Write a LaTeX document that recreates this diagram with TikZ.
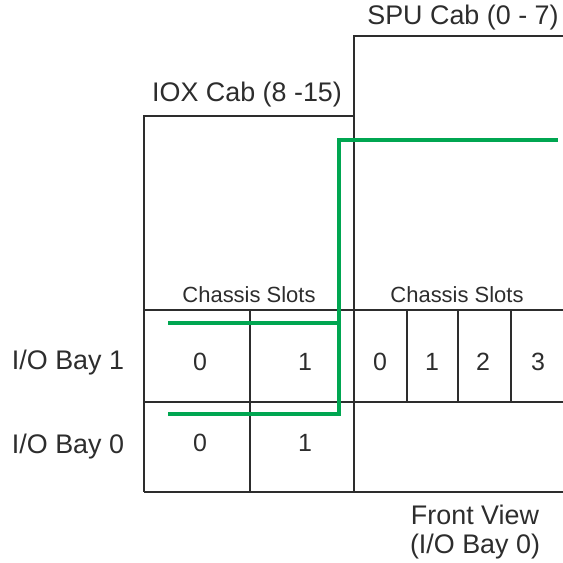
\documentclass[tikz,border=0pt]{standalone}
\usepackage{fontspec}
\setmainfont{Liberation Sans}
\usepackage{tikz}
\usetikzlibrary{positioning}
\usepackage{xcolor}
\definecolor{cablegreen}{RGB}{0,166,81}
\definecolor{framegray}{RGB}{45,45,45}

\begin{document}
\begin{tikzpicture}[every node/.style={font=\fontsize{15.3}{17}\selectfont, text=framegray},
  frame/.style={framegray, line width=0.9pt},
  cable/.style={cablegreen, line width=2.4pt},
  slots/.style={font=\fontsize{12.5}{14}\selectfont},
  slotno/.style={font=\fontsize{14.2}{17}\selectfont}]
  \useasboundingbox (0,0) rectangle (11.26,11.26);
  % cabinets
  \draw[frame] (2.88,1.42) -- (2.88,8.94) -- (7.08,8.94);
  \draw[frame] (7.08,1.42) -- (7.08,10.54) -- (11.26,10.54);
  \draw[frame] (2.88,1.42) -- (11.26,1.42);
  \draw[frame] (2.88,3.22) -- (11.26,3.22);
  \draw[frame] (2.88,5.06) -- (11.26,5.06);
  % slot dividers
  \draw[frame] (5.0,1.42) -- (5.0,5.06);
  \foreach \x in {8.14,9.16,10.22}
    \draw[frame] (\x,3.22) -- (\x,5.06);
  % titles
  \node (spu) at (9.26,10.9) {SPU Cab (0 - 7)};
  \node (iox) at (4.94,9.36) {IOX Cab (8 -15)};
  \node[slots] (ioxslots) at (4.98,5.36) {Chassis Slots};
  \node[slots] (spuslots) at (9.14,5.36) {Chassis Slots};
  \node (bay1) at (1.36,4.0) {I/O Bay 1};
  \node (bay0) at (1.36,2.32) {I/O Bay 0};
  \node[align=center] (front) at (9.5,0.62) {Front View\\(I/O Bay 0)};
  % slot numbers
  \node[slotno] (iox10) at (4.0,4.02) {0};
  \node[slotno] (iox11) at (6.1,4.02) {1};
  \node[slotno] (iox00) at (4.0,2.4) {0};
  \node[slotno] (iox01) at (6.1,2.4) {1};
  \foreach \n/\x in {0/7.6,1/8.64,2/9.66,3/10.76}
    \node[slotno] (spu\n) at (\x,4.02) {\n};
  % cable
  \coordinate (c1) at (3.36,4.80);
  \coordinate (c0) at (3.36,2.98);
  \coordinate (riser) at (6.78,8.46);
  \coordinate (cend) at (11.16,8.46);
  \draw[cable] (c1) -- (c1 -| riser);
  \draw[cable] (c0) -- (c0 -| riser) -- (riser) -- (cend);
\end{tikzpicture}
\end{document}
